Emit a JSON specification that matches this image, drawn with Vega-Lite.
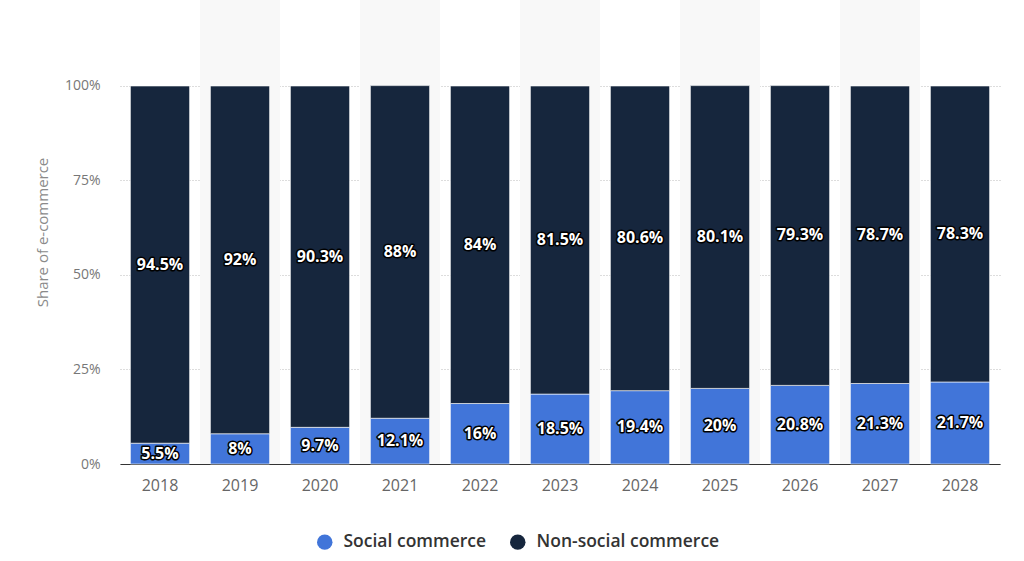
{
  "$schema": "https://vega.github.io/schema/vega-lite/v6.json",
  "width": 880,
  "height": 464,
  "autosize": {"type": "none"},
  "padding": {"left": 120, "top": 0, "right": 24, "bottom": 97},
  "background": "#ffffff",
  "config": {
    "font": "Open Sans",
    "view": {"stroke": null}
  },
  "data": {
    "values": [
      {"year": 2018, "series": "Social commerce", "value": 5.5},
      {"year": 2018, "series": "Non-social commerce", "value": 94.5},
      {"year": 2019, "series": "Social commerce", "value": 8},
      {"year": 2019, "series": "Non-social commerce", "value": 92},
      {"year": 2020, "series": "Social commerce", "value": 9.7},
      {"year": 2020, "series": "Non-social commerce", "value": 90.3},
      {"year": 2021, "series": "Social commerce", "value": 12.1},
      {"year": 2021, "series": "Non-social commerce", "value": 88},
      {"year": 2022, "series": "Social commerce", "value": 16},
      {"year": 2022, "series": "Non-social commerce", "value": 84},
      {"year": 2023, "series": "Social commerce", "value": 18.5},
      {"year": 2023, "series": "Non-social commerce", "value": 81.5},
      {"year": 2024, "series": "Social commerce", "value": 19.4},
      {"year": 2024, "series": "Non-social commerce", "value": 80.6},
      {"year": 2025, "series": "Social commerce", "value": 20},
      {"year": 2025, "series": "Non-social commerce", "value": 80.1},
      {"year": 2026, "series": "Social commerce", "value": 20.8},
      {"year": 2026, "series": "Non-social commerce", "value": 79.3},
      {"year": 2027, "series": "Social commerce", "value": 21.3},
      {"year": 2027, "series": "Non-social commerce", "value": 78.7},
      {"year": 2028, "series": "Social commerce", "value": 21.7},
      {"year": 2028, "series": "Non-social commerce", "value": 78.3}
    ]
  },
  "layer": [
    {
      "transform": [
        {"filter": "datum.year % 2 == 1 && datum.series == 'Social commerce'"}
      ],
      "mark": {"type": "rect", "color": "#f8f8f8"},
      "encoding": {
        "x": {
          "field": "year",
          "type": "ordinal",
          "scale": {"domain": [2018, 2019, 2020, 2021, 2022, 2023, 2024, 2025, 2026, 2027, 2028], "paddingInner": 0, "paddingOuter": 0},
          "axis": null
        }
      }
    },
    {
      "transform": [
        {"stack": "value", "groupby": ["year"], "sort": [{"field": "series", "order": "descending"}], "as": ["v0", "v1"]},
        {"calculate": "(datum.v0 + datum.v1) / 2", "as": "mid"},
        {"calculate": "datum.value + '%'", "as": "label"}
      ],
      "encoding": {
        "x": {
          "field": "year",
          "type": "ordinal",
          "scale": {"paddingInner": 0.26, "paddingOuter": 0.13},
          "axis": {
            "title": null,
            "labelAngle": 0,
            "labelColor": "#666666",
            "labelFontSize": 16,
            "labelPadding": 13,
            "ticks": false,
            "domainColor": "#333333",
            "domainWidth": 1,
            "grid": false
          }
        }
      },
      "layer": [
        {
          "mark": {"type": "bar", "stroke": "#ffffff", "strokeWidth": 1, "strokeOpacity": 0.6},
          "encoding": {
            "y": {
              "field": "v0",
              "type": "quantitative",
              "scale": {"domain": [0, 122.75], "nice": false},
              "axis": {
                "title": "Share of e-commerce",
                "titleColor": "#8a8a8a",
                "titleFontSize": 15,
                "titleFontWeight": "normal",
                "titlePadding": 14,
                "values": [0, 25, 50, 75, 100],
                "labelExpr": "datum.value + '%'",
                "labelColor": "#777777",
                "labelFontSize": 14,
                "labelPadding": 20,
                "ticks": false,
                "domain": false,
                "grid": true,
                "gridColor": "#bbbbbb",
                "gridDash": [1, 2],
                "gridWidth": 1
              }
            },
            "y2": {"field": "v1"},
            "color": {
              "field": "series",
              "type": "nominal",
              "scale": {"domain": ["Social commerce", "Non-social commerce"], "range": ["#4175d9", "#16263d"]},
              "legend": {
                "title": null,
                "orient": "none",
                "legendX": 196,
                "legendY": 533,
                "direction": "horizontal",
                "symbolType": "circle",
                "symbolSize": 240,
                "symbolStrokeWidth": 0,
                "labelFontSize": 17.5,
                "labelFontWeight": 600,
                "labelColor": "#333333",
                "labelLimit": 400,
                "labelOffset": 10,
                "columnPadding": 22
              }
            }
          }
        },
        {
          "mark": {"type": "text", "fontSize": 16, "fontWeight": "bold", "fill": "#000000", "stroke": "#000000", "strokeWidth": 3, "strokeJoin": "round"},
          "encoding": {
            "y": {"field": "mid", "type": "quantitative"},
            "text": {"field": "label"}
          }
        },
        {
          "mark": {"type": "text", "fontSize": 16, "fontWeight": "bold", "fill": "#ffffff"},
          "encoding": {
            "y": {"field": "mid", "type": "quantitative"},
            "text": {"field": "label"}
          }
        }
      ]
    }
  ],
  "resolve": {"scale": {"x": "independent"}}
}
